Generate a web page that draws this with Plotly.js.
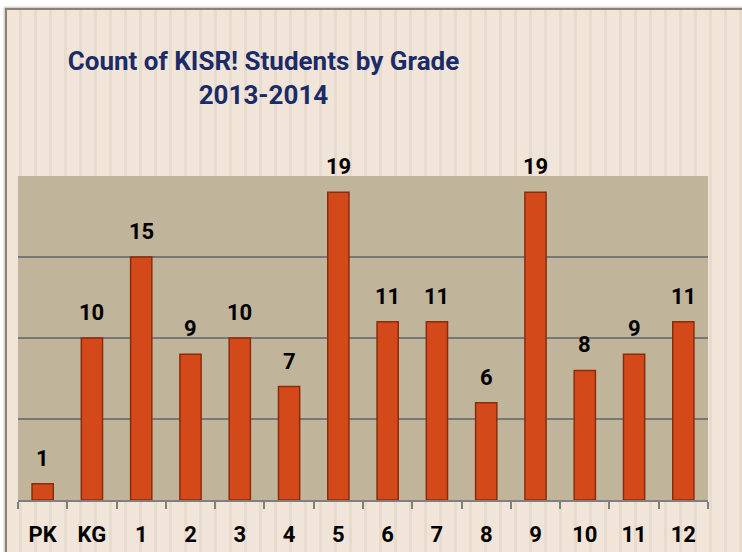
<!DOCTYPE html>
<html>
<head>
<meta charset="utf-8">
<script src="https://cdn.plot.ly/plotly-3.0.1.min.js"></script>
<style>
  html, body { margin: 0; padding: 0; background: #ffffff; width: 742px; height: 552px; overflow: hidden; }
  #frame {
    position: absolute; left: 5px; top: 8px; width: 760px; height: 560px;
    border-top: 2px solid #8c826f; border-left: 2px solid #8c826f;
    box-shadow: -1px -1px 2px rgba(0,0,0,0.25);
    background-color: #f1e5d9;
    background-image: repeating-linear-gradient(90deg, #f1e5d9 0px, #f1e5d9 12px, #e7dbcd 12px, #e7dbcd 15px);
  }
  #chart { position: absolute; left: 0; top: 0; width: 742px; height: 552px; }
</style>
</head>
<body>
<div id="frame"></div>
<div id="chart"></div>
<script>
const grades = ["PK", "KG", "1", "2", "3", "4", "5", "6", "7", "8", "9", "10", "11", "12"];
const studentCounts = [1, 10, 15, 9, 10, 7, 19, 11, 11, 6, 19, 8, 9, 11];
const chartTitle = "Count of KISR! Students by Grade<br>2013-2014";

const boldFont = "Roboto, 'Open Sans', sans-serif";

const trace = {
  type: "bar",
  x: grades,
  y: studentCounts,
  marker: { color: "#d4491a", line: { color: "#8a2c0c", width: 1.5 } },
  hoverinfo: "none"
};

const annotations = grades.map((g, i) => ({
  x: i, y: studentCounts[i], xref: "x", yref: "y",
  text: "<b>" + studentCounts[i] + "</b>",
  showarrow: false, yanchor: "bottom", yshift: 11,
  font: { family: boldFont, size: 22, color: "#000000" }
}));

const layout = {
  width: 742, height: 552,
  paper_bgcolor: "rgba(0,0,0,0)",
  plot_bgcolor: "#c0b49a",
  margin: { l: 18, r: 34, t: 176, b: 52, pad: 0 },
  title: {
    text: "<b>" + chartTitle + "</b>",
    x: 264 / 742, xanchor: "center", xref: "paper",
    y: 1 - 70 / 552, yanchor: "top", yref: "container",
    font: { family: boldFont, size: 26, color: "#1b2b68" }
  },
  showlegend: false,
  bargap: 0.57,
  xaxis: {
    type: "category",
    showgrid: false,
    showline: true, linecolor: "#7f7f7f", linewidth: 2,
    ticks: "outside", tickson: "boundaries", ticklen: 7, tickwidth: 2, tickcolor: "#7f7f7f",
    ticklabelstandoff: 14,
    tickfont: { family: boldFont, size: 22, color: "#000000" },
    tickprefix: "<b>", ticksuffix: "</b>",
    zeroline: false
  },
  yaxis: {
    range: [0, 20], dtick: 5,
    showgrid: true, gridcolor: "#777777", gridwidth: 2,
    showticklabels: false, ticks: "",
    showline: false, zeroline: false
  },
  annotations: annotations
};

Plotly.newPlot("chart", [trace], layout, { staticPlot: true, displayModeBar: false });
</script>
</body>
</html>
